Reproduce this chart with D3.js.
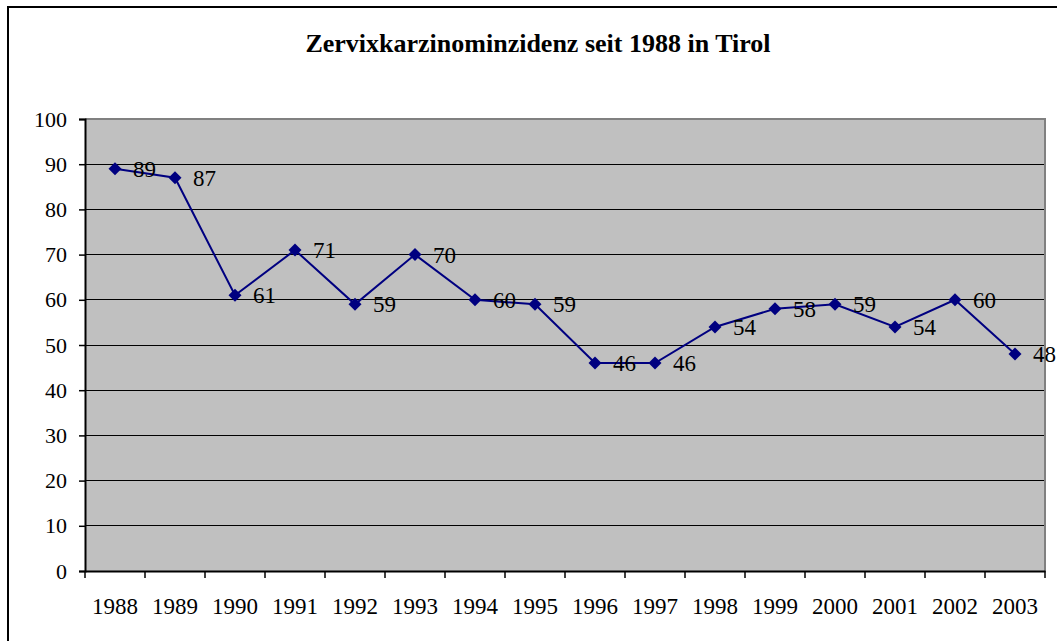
<!DOCTYPE html>
<html><head><meta charset="utf-8">
<script src="https://cdn.jsdelivr.net/npm/d3@7"></script>
<style>body{margin:0;background:#fff}svg{display:block}svg text{font-family:'Liberation Serif','Times New Roman',serif}</style>
</head><body>
<svg id="c" width="1057" height="641"></svg>
<script>
const title = "Zervixkarzinominzidenz seit 1988 in Tirol";
const years = ["1988","1989","1990","1991","1992","1993","1994","1995","1996","1997","1998","1999","2000","2001","2002","2003"];
const values = [89,87,61,71,59,70,60,59,46,46,54,58,59,54,60,48];
const yTicks = [0,10,20,30,40,50,60,70,80,90,100];

const svg = d3.select("#c");
const L=85, R=1045, T=119, B=571;
const font = "'Liberation Serif','Times New Roman',serif";

// outer border (only top & left visible)
svg.append("rect").attr("x",8).attr("y",7).attr("width",1200).attr("height",800)
  .attr("fill","#fff").attr("stroke","#000").attr("stroke-width",2);

svg.append("text").attr("x",538).attr("y",52).attr("text-anchor","middle")
  .style("font-family",font).style("font-weight","bold").style("font-size","26px")
  .text(title);

const x = d3.scaleBand().domain(years).range([L,R]);
const y = d3.scaleLinear().domain([0,100]).range([B,T]);

svg.append("rect").attr("x",L).attr("y",T).attr("width",R-L).attr("height",B-T).attr("fill","#c0c0c0");

// gridlines
svg.append("g").selectAll("line").data(yTicks.filter(d=>d>0&&d<100)).join("line")
  .attr("x1",L).attr("x2",R).attr("y1",d=>y(d)).attr("y2",d=>y(d))
  .attr("stroke","#000").attr("stroke-width",1).attr("shape-rendering","crispEdges");
// top/right border of plot
svg.append("path").attr("d",`M${L},${T}H${R}V${B}`).attr("fill","none").attr("stroke","#808080").attr("stroke-width",2);

// y axis
const ya = svg.append("g").attr("transform",`translate(${L},0)`)
  .call(d3.axisLeft(y).tickValues(yTicks).tickSize(6).tickPadding(12));
ya.select(".domain").attr("stroke","#000").attr("stroke-width",2);
ya.selectAll("line").attr("stroke","#000").attr("stroke-width",1.5);
ya.selectAll("text").style("font-family",font).style("font-size","22px").attr("fill","#000");

// x axis
const xa = svg.append("g").attr("transform",`translate(0,${B})`)
  .call(d3.axisBottom(x).tickSize(0).tickPadding(27));
xa.select(".domain").attr("stroke","#000").attr("stroke-width",2);
xa.selectAll("text").style("font-family",font).style("font-size","23px").attr("fill","#000");
// category boundary ticks
const bounds = years.map(d=>x(d)).concat([R]);
xa.append("g").selectAll("line").data(bounds).join("line")
  .attr("x1",d=>d).attr("x2",d=>d).attr("y1",0).attr("y2",7)
  .attr("stroke","#000").attr("stroke-width",1.5);

const cx = d=>x(d)+x.bandwidth()/2;
const line = d3.line().x((d,i)=>cx(years[i])).y(d=>y(d));
svg.append("path").datum(values).attr("d",line).attr("fill","none").attr("stroke","#000080").attr("stroke-width",2);

svg.append("g").selectAll("path").data(values).join("path")
  .attr("transform",(d,i)=>`translate(${cx(years[i])},${y(d)})`)
  .attr("d","M0,-6.5L6.5,0L0,6.5L-6.5,0Z").attr("fill","#000080");

svg.append("g").selectAll("text").data(values).join("text")
  .attr("x",(d,i)=>cx(years[i])+18).attr("y",d=>y(d)).attr("dy","0.35em")
  .style("font-family",font).style("font-size","23px").attr("fill","#000")
  .text(d=>d);
</script>
</body></html>
